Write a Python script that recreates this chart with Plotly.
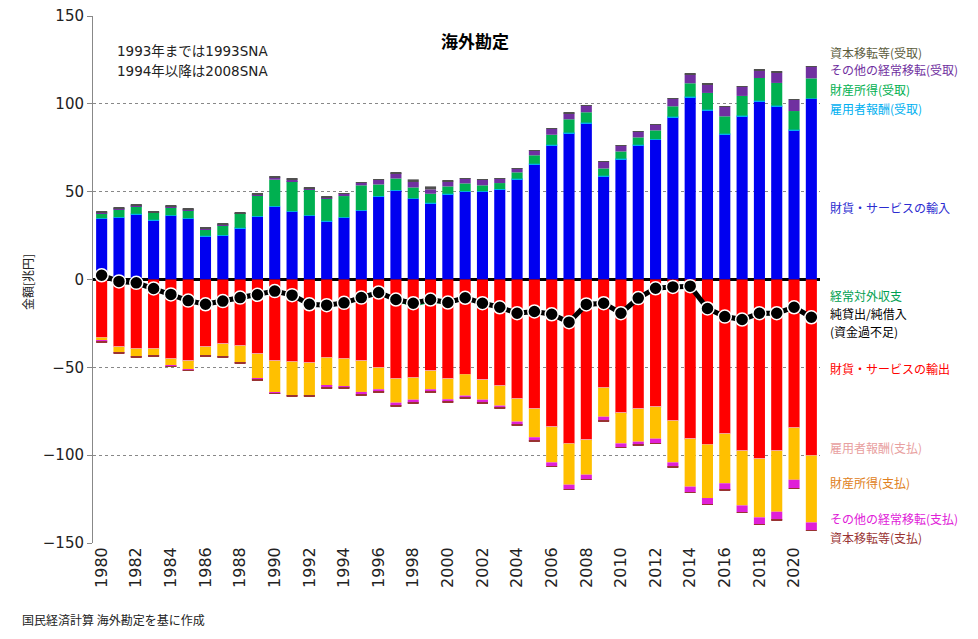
import plotly.graph_objects as go

years = list(range(1980, 2022))

# receipts (positive side)
imports = [34.6, 35.2, 37.1, 33.7, 36.3, 34.6, 24.6, 25.0, 29.1, 35.8, 41.5, 38.6, 36.3, 33.1,
           35.2, 39.2, 47.2, 50.6, 45.9, 43.4, 48.5, 50.0, 50.0, 51.2, 57.1, 65.6, 76.4, 83.3,
           89.0, 58.8, 68.5, 76.4, 79.6, 92.4, 103.8, 96.4, 82.7, 93.0, 101.5, 98.7, 85.0, 102.8]
comp_recv = [0.3, 0.3, 0.3, 0.3, 0.3, 0.3, 0.3, 0.3, 0.3, 0.3, 0.3, 0.3, 0.3, 0.3,
             0.3, 0.3, 0.3, 0.3, 0.3, 0.3, 0.3, 0.3, 0.3, 0.3, 0.3, 0.3, 0.3, 0.3,
             0.3, 0.3, 0.3, 0.3, 0.3, 0.3, 0.3, 0.3, 0.3, 0.3, 0.3, 0.3, 0.3, 0.3]
prop_recv = [2.9, 4.4, 4.4, 4.0, 4.4, 4.4, 3.8, 5.6, 8.2, 11.9, 15.0, 17.1, 14.7, 12.8,
             12.0, 14.1, 6.6, 6.6, 6.2, 5.1, 4.2, 4.4, 3.3, 3.4, 3.6, 4.8, 5.7, 7.6,
             5.9, 4.1, 4.1, 4.2, 5.0, 5.9, 7.6, 9.5, 9.9, 11.2, 12.9, 12.9, 10.6, 11.4]
other_recv = [0.4, 0.5, 0.5, 0.4, 0.6, 0.7, 0.5, 0.6, 0.2, 0.6, 1.3, 0.9, 0.5, 0.5,
              1.4, 1.4, 2.6, 3.0, 3.1, 2.5, 2.8, 2.7, 3.1, 2.5, 2.1, 2.7, 3.3, 3.3,
              3.8, 3.7, 3.3, 3.3, 3.1, 4.4, 5.0, 4.8, 5.4, 5.2, 4.2, 5.8, 6.3, 6.7]
cap_recv = [0.5, 0.6, 0.6, 0.5, 0.6, 0.6, 0.6, 0.6, 0.2, 0.6, 0.8, 0.6, 0.6, 0.6,
            0.3, 0.3, 0.3, 0.3, 1.5, 1.7, 0.6, 0.3, 0.3, 0.3, 0.3, 0.3, 0.3, 0.3,
            0.3, 0.3, 0.3, 0.3, 0.3, 0.3, 0.3, 0.3, 0.3, 0.3, 0.8, 1.0, 0.5, 0.3]

# payments (negative side)
exports = [-32.9, -38.2, -39.3, -39.3, -45.0, -46.2, -38.2, -36.5, -37.6, -42.2, -46.2, -46.7, -47.3, -44.4,
           -45.0, -46.2, -50.1, -56.4, -55.8, -51.9, -56.4, -53.8, -57.0, -60.4, -67.8, -73.5, -83.8, -93.3,
           -91.2, -61.5, -75.8, -73.5, -72.4, -80.3, -90.6, -93.8, -87.7, -97.4, -102.0, -97.4, -84.3, -100.1]
comp_pay = [-0.2, -0.2, -0.2, -0.2, -0.2, -0.2, -0.2, -0.2, -0.2, -0.2, -0.2, -0.2, -0.2, -0.2,
            -0.2, -0.2, -0.2, -0.2, -0.2, -0.2, -0.2, -0.2, -0.2, -0.2, -0.2, -0.2, -0.2, -0.2,
            -0.2, -0.2, -0.2, -0.2, -0.2, -0.2, -0.2, -0.2, -0.2, -0.2, -0.2, -0.2, -0.2, -0.2]
prop_pay = [-1.8, -3.0, -4.2, -3.6, -4.0, -5.1, -4.7, -7.0, -9.3, -14.2, -17.8, -19.0, -18.4, -16.0,
            -15.8, -17.6, -12.2, -13.5, -12.4, -10.4, -11.6, -12.1, -11.2, -11.2, -12.9, -16.1, -20.1, -23.3,
            -19.7, -16.4, -17.3, -18.6, -18.0, -23.6, -27.1, -30.4, -28.1, -31.0, -33.2, -34.6, -29.5, -38.0]
other_pay = [-0.6, -0.4, -0.4, -0.4, -0.4, -0.3, -0.4, -0.4, -0.4, -0.6, -0.6, -0.4, -0.4, -1.1,
             -0.7, -1.7, -1.5, -1.9, -1.9, -1.5, -1.5, -1.3, -1.9, -1.3, -1.9, -2.1, -2.1, -2.5,
             -2.5, -2.4, -2.1, -1.9, -2.5, -2.6, -3.1, -3.4, -3.8, -3.8, -3.8, -4.7, -4.7, -4.4]
cap_pay = [-0.2, -0.2, -0.2, -0.2, -0.2, -0.2, -0.2, -0.2, -0.2, -0.2, -0.2, -0.2, -0.2, -0.2,
           -0.2, -0.2, -0.2, -0.2, -0.2, -0.2, -0.2, -0.2, -0.2, -0.2, -0.2, -0.2, -0.2, -0.2,
           -0.2, -0.2, -0.2, -0.2, -0.2, -0.2, -0.2, -0.2, -0.2, -0.2, -0.2, -0.2, -0.2, -0.2]

# balances (lines)
current_acct = [2.4, -1.1, -1.9, -5.1, -8.5, -12.0, -14.1, -12.3, -10.3, -8.7, -6.6, -8.9, -14.1, -14.6,
                -13.6, -10.5, -7.6, -11.6, -14.8, -12.2, -13.3, -10.6, -13.6, -16.0, -19.3, -18.3, -19.9, -24.4,
                -14.4, -13.6, -19.3, -10.7, -5.1, -4.3, -3.9, -16.6, -21.3, -22.9, -19.5, -19.6, -16.0, -21.6]
net_lending = [2.4, -1.1, -1.9, -5.1, -8.5, -12.0, -14.1, -12.3, -10.3, -8.7, -6.6, -8.9, -14.1, -14.6,
               -13.3, -10.3, -7.4, -11.4, -13.5, -11.4, -13.1, -10.4, -13.5, -15.8, -19.2, -18.2, -19.8, -24.3,
               -14.2, -13.5, -19.2, -10.6, -5.0, -4.2, -3.8, -16.5, -21.1, -22.8, -19.2, -19.2, -15.8, -21.5]

tick_years = [1980, 1982, 1984, 1986, 1988, 1990, 1992, 1994, 1996, 1998, 2000,
              2002, 2004, 2006, 2008, 2010, 2012, 2014, 2016, 2018, 2020]
y_ticks = [-150, -100, -50, 0, 50, 100, 150]

FONT = "Noto Sans CJK JP"
NUMFONT = "DejaVu Sans, Noto Sans CJK JP"

bar_series = [
    ("財貨・サービスの輸入", imports, "#0000F0"),
    ("雇用者報酬(受取)", comp_recv, "#00B0F0"),
    ("財産所得(受取)", prop_recv, "#00B050"),
    ("その他の経常移転(受取)", other_recv, "#7030A0"),
    ("資本移転等(受取)", cap_recv, "#4F4F4F"),
    ("財貨・サービスの輸出", exports, "#FF0000"),
    ("雇用者報酬(支払)", comp_pay, "#F4A0A0"),
    ("財産所得(支払)", prop_pay, "#FFC000"),
    ("その他の経常移転(支払)", other_pay, "#E020D8"),
    ("資本移転等(支払)", cap_pay, "#993333"),
]

fig = go.Figure()
for name, vals, col in bar_series:
    fig.add_trace(go.Bar(x=years, y=vals, name=name, marker_color=col,
                         marker_line_width=0))

fig.add_trace(go.Scatter(x=years, y=current_acct, name="経常対外収支", mode="lines",
                         line=dict(color="#00B050", width=3)))
fig.add_trace(go.Scatter(x=years, y=net_lending, name="純貸出/純借入", mode="lines+markers",
                         line=dict(color="black", width=5),
                         marker=dict(size=13, color="black", line=dict(color="white", width=1.5))))

# plot area in pixels: x 93..820, y 16..543
PL, PR, PT, PB = 93, 820, 16, 543


def px(x):
    return (x - PL) / (PR - PL)


def py(y):
    return (PB - y) / (PB - PT)


labels = [
    ("資本移転等(受取)", 52, "#5C5C3C"),
    ("その他の経常移転(受取)", 70, "#7030A0"),
    ("財産所得(受取)", 90, "#00B050"),
    ("雇用者報酬(受取)", 108, "#00B0F0"),
    ("財貨・サービスの輸入", 207.3, "#2B2BD0"),
    ("経常対外収支", 295.5, "#00A050"),
    ("純貸出/純借入", 313.5, "#000000"),
    ("(資金過不足)", 331.5, "#000000"),
    ("財貨・サービスの輸出", 368, "#FF0000"),
    ("雇用者報酬(支払)", 447.5, "#E8A0A0"),
    ("財産所得(支払)", 482, "#E08020"),
    ("その他の経常移転(支払)", 518, "#E020D8"),
    ("資本移転等(支払)", 537, "#993333"),
]
annotations = []
for txt, ypix, col in labels:
    annotations.append(dict(x=px(828), xref="paper", y=py(ypix), yref="paper", text=txt,
                            showarrow=False, xanchor="left", yanchor="middle",
                            font=dict(family=FONT, size=12, color=col)))

annotations.append(dict(x=px(475), xref="paper", y=py(40), yref="paper",
                        text="<b>海外勘定</b>", showarrow=False, xanchor="center", yanchor="middle",
                        font=dict(family=FONT, size=17, color="black")))
annotations.append(dict(x=px(115), xref="paper", y=py(51), yref="paper",
                        text="1993年までは1993SNA", showarrow=False,
                        xanchor="left", yanchor="middle",
                        font=dict(family=NUMFONT, size=13.5, color="#222222")))
annotations.append(dict(x=px(115), xref="paper", y=py(70.5), yref="paper",
                        text="1994年以降は2008SNA", showarrow=False,
                        xanchor="left", yanchor="middle",
                        font=dict(family=NUMFONT, size=13.5, color="#222222")))
annotations.append(dict(x=px(27), xref="paper", y=py(282), yref="paper",
                        text="金額[兆円]", showarrow=False, textangle=-90,
                        xanchor="center", yanchor="middle",
                        font=dict(family=FONT, size=12, color="#222222")))
annotations.append(dict(x=px(20), xref="paper", y=py(619), yref="paper",
                        text="国民経済計算 海外勘定を基に作成", showarrow=False,
                        xanchor="left", yanchor="middle",
                        font=dict(family=FONT, size=12, color="#222222")))

fig.update_layout(
    width=978, height=639,
    margin=dict(l=PL, r=978 - PR, t=PT, b=639 - PB, autoexpand=False),
    barmode="relative",
    bargap=0.36,
    showlegend=False,
    plot_bgcolor="white",
    paper_bgcolor="white",
    annotations=annotations,
    font=dict(family=FONT),
)
fig.update_xaxes(range=[1979.5, 2021.5], tickmode="array", tickvals=tick_years,
                 ticktext=[str(t) for t in tick_years], tickangle=-90,
                 tickfont=dict(family=NUMFONT, size=16, color="#222222"),
                 showgrid=False, showline=False, zeroline=False, ticks="",
                 automargin=False)
fig.update_yaxes(range=[-150, 150], tickmode="array", tickvals=y_ticks,
                 tickfont=dict(family=NUMFONT, size=15, color="#222222"),
                 showgrid=True, gridcolor="#888888", griddash="dot", gridwidth=1,
                 zeroline=True, zerolinecolor="black", zerolinewidth=3,
                 showline=True, linecolor="#888888", linewidth=1,
                 ticks="outside", ticklen=5, tickcolor="#888888",
                 automargin=False)

fig.write_html("out.html")
